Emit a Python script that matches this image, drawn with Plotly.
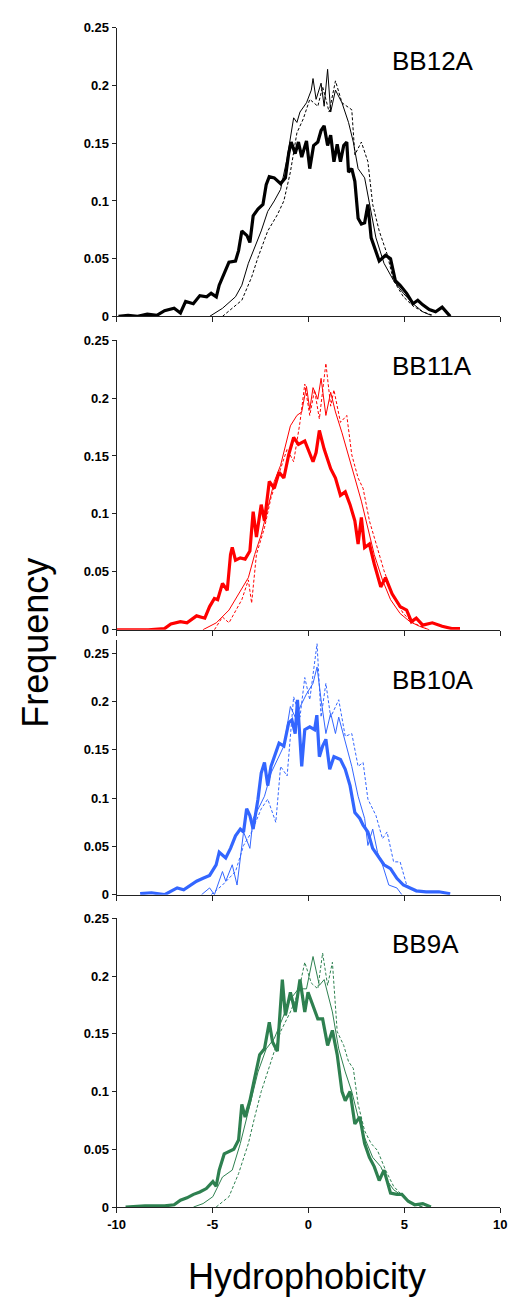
import plotly.graph_objects as go

# ---------------- data (x = hydrophobicity, y = frequency) ----------------
panel_names = ["BB12A", "BB11A", "BB10A", "BB9A"]
panel_colors = ["#000000", "#FF0000", "#3366FF", "#2E8050"]
y_tick_vals = [0, 0.05, 0.1, 0.15, 0.2, 0.25]
y_tick_text = ["0", "0.05", "0.1", "0.15", "0.2", "0.25"]
x_tick_vals = [-10, -5, 0, 5, 10]
x_tick_text = ["-10", "-5", "0", "5", "10"]
y_tops = [0.25, 0.25, 0.2643, 0.25]

bb12a_thick = [(-9.9,0),(-9.4,0.001),(-8.9,0.0),(-8.4,0.002),(-7.9,0.001),(-7.5,0.005),(-7.0,0.007),(-6.67,0.003),
    (-6.4,0.013),(-6.0,0.011),(-5.66,0.018),(-5.3,0.017),(-5.07,0.02),(-4.8,0.017),(-4.65,0.027),(-4.4,0.036),
    (-4.14,0.047),(-3.8,0.048),(-3.64,0.057),(-3.47,0.074),(-3.2,0.07),(-3.05,0.064),(-2.88,0.087),(-2.63,0.093),
    (-2.37,0.097),(-2.2,0.114),(-2.04,0.121),(-1.78,0.12),(-1.45,0.115),(-1.2,0.12),(-1.03,0.141),(-0.9,0.151),
    (-0.69,0.141),(-0.52,0.151),(-0.35,0.138),(-0.1,0.152),(0.07,0.128),(0.27,0.148),(0.49,0.151),(0.66,0.161),
    (0.82,0.165),(1.0,0.148),(1.16,0.157),(1.33,0.134),(1.5,0.149),(1.67,0.134),(1.84,0.148),(2.0,0.151),
    (2.09,0.125),(2.26,0.128),(2.42,0.117),(2.59,0.085),(2.76,0.08),(2.93,0.081),(3.1,0.097),(3.27,0.068),
    (3.52,0.057),(3.69,0.048),(4.02,0.053),(4.28,0.05),(4.53,0.031),(4.78,0.027),(5.12,0.02),(5.45,0.011),
    (5.7,0.014),(5.96,0.01),(6.3,0.006),(6.63,0.004),(6.97,0.008),(7.22,0.003),(7.39,0.0)]
bb12a_thin = [(-5.15,0),(-4.48,0.007),(-3.8,0.017),(-3.47,0.027),(-3.13,0.046),(-2.8,0.06),(-2.46,0.074),(-2.12,0.091),
    (-1.78,0.1),(-1.45,0.11),(-1.11,0.137),(-0.77,0.172),(-0.6,0.168),(-0.44,0.177),(-0.1,0.185),(0.15,0.196),
    (0.24,0.206),(0.4,0.188),(0.66,0.202),(0.82,0.182),(1.0,0.214),(1.16,0.177),(1.41,0.196),(1.75,0.185),
    (2.09,0.168),(2.34,0.151),(2.59,0.128),(2.93,0.12),(3.18,0.097),(3.52,0.068),(3.94,0.046),(4.44,0.031),
    (4.95,0.02),(5.45,0.011),(5.96,0.004),(6.38,0.001)]
bb12a_dash = [(-4.48,0),(-3.47,0.014),(-2.96,0.034),(-2.63,0.051),(-2.12,0.074),(-1.62,0.088),(-1.28,0.1),(-0.94,0.125),
    (-0.6,0.159),(-0.27,0.171),(0.07,0.188),(0.49,0.182),(0.74,0.199),(1.08,0.177),(1.41,0.204),(1.75,0.185),
    (2.26,0.179),(2.42,0.14),(2.76,0.151),(3.1,0.134),(3.35,0.097),(3.69,0.074),(4.1,0.054),(4.44,0.031),
    (4.95,0.017),(5.45,0.009),(5.96,0.004),(6.46,0.001)]

bb11a_thick = [(-10,0),(-8.35,0),(-7.5,0.001),(-7.17,0.005),(-6.67,0.007),(-6.33,0.006),(-5.83,0.012),(-5.4,0.01),
    (-5.15,0.02),(-4.9,0.027),(-4.73,0.026),(-4.48,0.04),(-4.23,0.034),(-4.06,0.065),(-3.97,0.071),(-3.8,0.06),
    (-3.55,0.062),(-3.3,0.061),(-3.05,0.068),(-2.88,0.102),(-2.71,0.08),(-2.46,0.108),(-2.29,0.094),(-2.04,0.128),
    (-1.78,0.122),(-1.53,0.136),(-1.28,0.131),(-1.03,0.151),(-0.77,0.166),(-0.52,0.16),(-0.19,0.163),(0.07,0.153),
    (0.24,0.145),(0.4,0.153),(0.57,0.172),(0.82,0.156),(1.16,0.139),(1.41,0.131),(1.67,0.116),(1.92,0.119),
    (2.17,0.108),(2.42,0.094),(2.59,0.074),(2.76,0.097),(2.93,0.071),(3.18,0.074),(3.43,0.057),(3.77,0.037),
    (4.02,0.045),(4.36,0.031),(4.78,0.02),(5.12,0.017),(5.37,0.007),(5.62,0.01),(5.96,0.004),(6.46,0.006),
    (6.97,0.003),(7.47,0.001),(7.9,0.001)]
bb11a_thin = [(-5.5,0),(-4.8,0.006),(-4.14,0.017),(-3.64,0.031),(-3.13,0.045),(-2.8,0.065),(-2.46,0.082),(-2.12,0.105),
    (-1.78,0.128),(-1.45,0.142),(-0.94,0.176),(-0.6,0.185),(-0.35,0.188),(-0.1,0.21),(0.07,0.19),(0.24,0.209),
    (0.49,0.199),(0.66,0.217),(0.91,0.185),(1.16,0.205),(1.41,0.188),(1.75,0.17),(2.09,0.151),(2.42,0.131),
    (2.76,0.111),(3.1,0.088),(3.43,0.065),(3.86,0.043),(4.28,0.026),(4.78,0.014),(5.29,0.007),(5.79,0.003),(6.3,0)]
bb11a_dash = [(-4.9,0),(-4.48,0.011),(-4.14,0.006),(-3.47,0.026),(-3.13,0.043),(-2.96,0.023),(-2.71,0.065),(-2.29,0.088),
    (-1.95,0.114),(-1.62,0.131),(-1.11,0.156),(-0.77,0.145),(-0.44,0.179),(-0.19,0.212),(0.07,0.185),(0.32,0.207),
    (0.57,0.182),(0.91,0.23),(1.16,0.193),(1.33,0.207),(1.67,0.179),(2.0,0.185),(2.26,0.151),(2.59,0.131),
    (2.85,0.122),(3.18,0.094),(3.6,0.071),(3.94,0.051),(4.44,0.028),(4.95,0.014),(5.45,0.006),(6.13,0.001)]

bb10a_thick = [(-8.77,0.001),(-8.18,0.002),(-7.5,0),(-6.84,0.007),(-6.5,0.005),(-6.16,0.01),(-5.83,0.014),(-5.49,0.017),
    (-5.15,0.02),(-4.81,0.031),(-4.65,0.044),(-4.31,0.038),(-4.06,0.048),(-3.8,0.061),(-3.55,0.068),(-3.38,0.065),
    (-3.22,0.089),(-3.05,0.082),(-2.88,0.068),(-2.63,0.099),(-2.46,0.126),(-2.29,0.137),(-2.12,0.113),(-1.95,0.133),
    (-1.7,0.147),(-1.53,0.157),(-1.28,0.154),(-1.03,0.178),(-0.86,0.181),(-0.69,0.167),(-0.57,0.202),(-0.44,0.167),
    (-0.35,0.133),(-0.19,0.171),(0.07,0.174),(0.32,0.171),(0.44,0.186),(0.57,0.143),(0.74,0.154),(0.91,0.161),
    (1.11,0.13),(1.33,0.143),(1.67,0.14),(1.92,0.13),(2.17,0.113),(2.42,0.085),(2.68,0.079),(2.85,0.072),
    (3.1,0.065),(3.35,0.048),(3.6,0.041),(3.94,0.031),(4.28,0.027),(4.61,0.017),(4.95,0.01),(5.29,0.007),
    (5.62,0.004),(6.13,0.003),(6.8,0.003),(7.39,0.001)]
bb10a_thin = [(-5.57,0),(-5.15,0.007),(-4.9,0),(-4.48,0.024),(-4.31,0.014),(-3.97,0.031),(-3.72,0.01),(-3.38,0.065),
    (-3.05,0.048),(-2.88,0.079),(-2.54,0.092),(-2.29,0.102),(-1.95,0.126),(-1.62,0.14),(-1.28,0.154),(-0.94,0.195),
    (-0.69,0.184),(-0.35,0.198),(-0.1,0.208),(0.24,0.219),(0.45,0.236),(0.66,0.202),(0.91,0.167),(1.16,0.188),
    (1.41,0.167),(1.58,0.184),(1.92,0.157),(2.26,0.133),(2.59,0.102),(2.93,0.079),(3.1,0.051),(3.35,0.068),
    (3.6,0.044),(3.86,0.031),(4.19,0.01),(4.61,0.007),(4.87,0)]
bb10a_dash = [(-5.07,0),(-4.48,0.01),(-3.8,0.024),(-3.38,0.051),(-2.96,0.065),(-2.46,0.089),(-2.12,0.099),(-1.7,0.075),
    (-1.45,0.133),(-1.11,0.123),(-0.77,0.205),(-0.44,0.184),(-0.19,0.225),(0.07,0.202),(0.45,0.26),(0.66,0.184),
    (0.91,0.219),(1.16,0.184),(1.58,0.202),(1.92,0.164),(2.26,0.167),(2.59,0.133),(2.85,0.137),(3.1,0.099),
    (3.52,0.082),(3.86,0.058),(4.1,0.065),(4.44,0.034),(4.78,0.034),(5.12,0.01),(5.62,0.003)]

bb9a_thick = [(-9.53,0),(-8.52,0.001),(-7.5,0.001),(-7.0,0.002),(-6.67,0.006),(-6.33,0.008),(-5.99,0.011),(-5.66,0.013),
    (-5.32,0.016),(-4.98,0.022),(-4.81,0.018),(-4.65,0.032),(-4.39,0.046),(-4.14,0.048),(-3.89,0.05),(-3.64,0.058),
    (-3.47,0.089),(-3.3,0.078),(-3.05,0.092),(-2.8,0.112),(-2.54,0.132),(-2.29,0.137),(-2.04,0.16),(-1.87,0.143),
    (-1.62,0.135),(-1.36,0.197),(-1.2,0.166),(-0.94,0.186),(-0.69,0.169),(-0.44,0.197),(-0.19,0.169),(-0.02,0.186),
    (0.24,0.174),(0.49,0.163),(0.74,0.163),(1.0,0.14),(1.25,0.153),(1.5,0.132),(1.75,0.1),(1.92,0.092),
    (2.17,0.1),(2.42,0.072),(2.68,0.078),(2.93,0.055),(3.18,0.043),(3.43,0.035),(3.69,0.023),(3.94,0.032),
    (4.28,0.012),(4.61,0.011),(4.87,0.011),(5.2,0.005),(5.54,0.002),(5.96,0.003),(6.38,0)]
bb9a_thin = [(-5.99,0),(-5.49,0.003),(-4.98,0.009),(-4.48,0.026),(-3.97,0.032),(-3.55,0.055),(-3.13,0.083),(-2.63,0.117),
    (-2.2,0.137),(-1.78,0.146),(-1.36,0.163),(-0.94,0.18),(-0.52,0.189),(-0.1,0.189),(0.24,0.217),(0.57,0.192),
    (0.82,0.197),(1.08,0.18),(1.25,0.169),(1.58,0.137),(1.92,0.117),(2.26,0.1),(2.59,0.078),(2.93,0.06),
    (3.35,0.043),(3.77,0.035),(4.1,0.023),(4.44,0.015),(4.95,0.009),(5.45,0.003),(5.96,0)]
bb9a_dash = [(-4.81,0),(-4.14,0.009),(-3.64,0.029),(-3.13,0.055),(-2.8,0.078),(-2.46,0.1),(-1.95,0.126),(-1.45,0.152),
    (-0.94,0.169),(-0.52,0.186),(-0.19,0.212),(0.15,0.194),(0.49,0.189),(0.74,0.22),(1.0,0.192),(1.25,0.212),
    (1.5,0.152),(1.84,0.14),(2.09,0.126),(2.34,0.12),(2.59,0.089),(2.93,0.066),(3.27,0.055),(3.6,0.049),
    (4.02,0.032),(4.44,0.018),(4.95,0.009),(5.45,0.003),(5.96,0)]

panel_series = [
    (bb12a_thin, bb12a_dash, bb12a_thick),
    (bb11a_thin, bb11a_dash, bb11a_thick),
    (bb10a_thin, bb10a_dash, bb10a_thick),
    (bb9a_thin, bb9a_dash, bb9a_thick),
]

# ---------------- layout geometry (pixels) ----------------
W, H = 516, 1305
M_R = 0
PW = W - M_R
x_left, x_right = 111, 507
panel_px = [(21, 313), (337, 630), (640, 898), (922, 1214)]   # (top, bottom) in px


def py(p):
    return 1 - p / H


def px(p):
    return p / PW


FONT = "Liberation Sans, Arial, sans-serif"
fig = go.Figure()
layout = dict(
    width=W, height=H,
    margin=dict(l=0, r=M_R, t=0, b=0),
    paper_bgcolor="white", plot_bgcolor="white",
    showlegend=False,
    annotations=[],
)

for i, (name, color, series, ytop, (top, bot)) in enumerate(
        zip(panel_names, panel_colors, panel_series, y_tops, panel_px)):
    n = i + 1
    xa = "x" if n == 1 else f"x{n}"
    ya = "y" if n == 1 else f"y{n}"
    thin, dash, thick = series
    for data, width, dashstyle in ((thin, 1, "solid"), (dash, 1, "3px,2px"), (thick, 3.2, "solid")):
        fig.add_trace(go.Scatter(
            x=[p[0] for p in data], y=[p[1] for p in data],
            mode="lines", line=dict(color=color, width=width, dash=dashstyle),
            xaxis=xa, yaxis=ya, hoverinfo="skip",
        ))
    layout[f"xaxis{'' if n == 1 else n}"] = dict(
        domain=[px(x_left), px(x_right)], range=[-10, 10], anchor=ya,
        tickvals=x_tick_vals, ticktext=x_tick_text, ticks="outside", ticklen=5,
        tickcolor="#222", showline=True, linecolor="#222", linewidth=1,
        showgrid=False, zeroline=False, showticklabels=(n == 4),
        tickfont=dict(family=FONT, size=13, color="black", weight="bold"),
    )
    layout[f"yaxis{'' if n == 1 else n}"] = dict(
        domain=[py(bot), py(top)], range=[0, ytop], anchor=xa,
        tickvals=y_tick_vals, ticktext=y_tick_text, ticks="outside", ticklen=4,
        tickcolor="#222", showline=True, linecolor="#222", linewidth=1,
        showgrid=False, zeroline=False,
        tickfont=dict(family=FONT, size=13, color="black", weight="bold"),
    )

label_centers = [55, 363, 681, 948]
for name, cy in zip(panel_names, label_centers):
    layout["annotations"].append(dict(
        text=name, xref="paper", yref="paper", x=px(393), y=py(cy),
        xanchor="left", yanchor="middle", showarrow=False,
        font=dict(family=FONT, size=26, color="black"),
    ))

layout["annotations"].append(dict(
    text="Frequency", xref="paper", yref="paper", x=px(27), y=py(643),
    xanchor="center", yanchor="middle", textangle=-90, showarrow=False,
    font=dict(family=FONT, size=36, color="black"),
))
layout["annotations"].append(dict(
    text="Hydrophobicity", xref="paper", yref="paper", x=px(308), y=py(1284),
    xanchor="center", yanchor="middle", showarrow=False,
    font=dict(family=FONT, size=36, color="black"),
))

fig.update_layout(**layout)
fig.write_html(
    "out.html",
    config={"displayModeBar": False},
    post_script="document.body.style.margin='0';document.body.style.overflow='hidden';",
)
